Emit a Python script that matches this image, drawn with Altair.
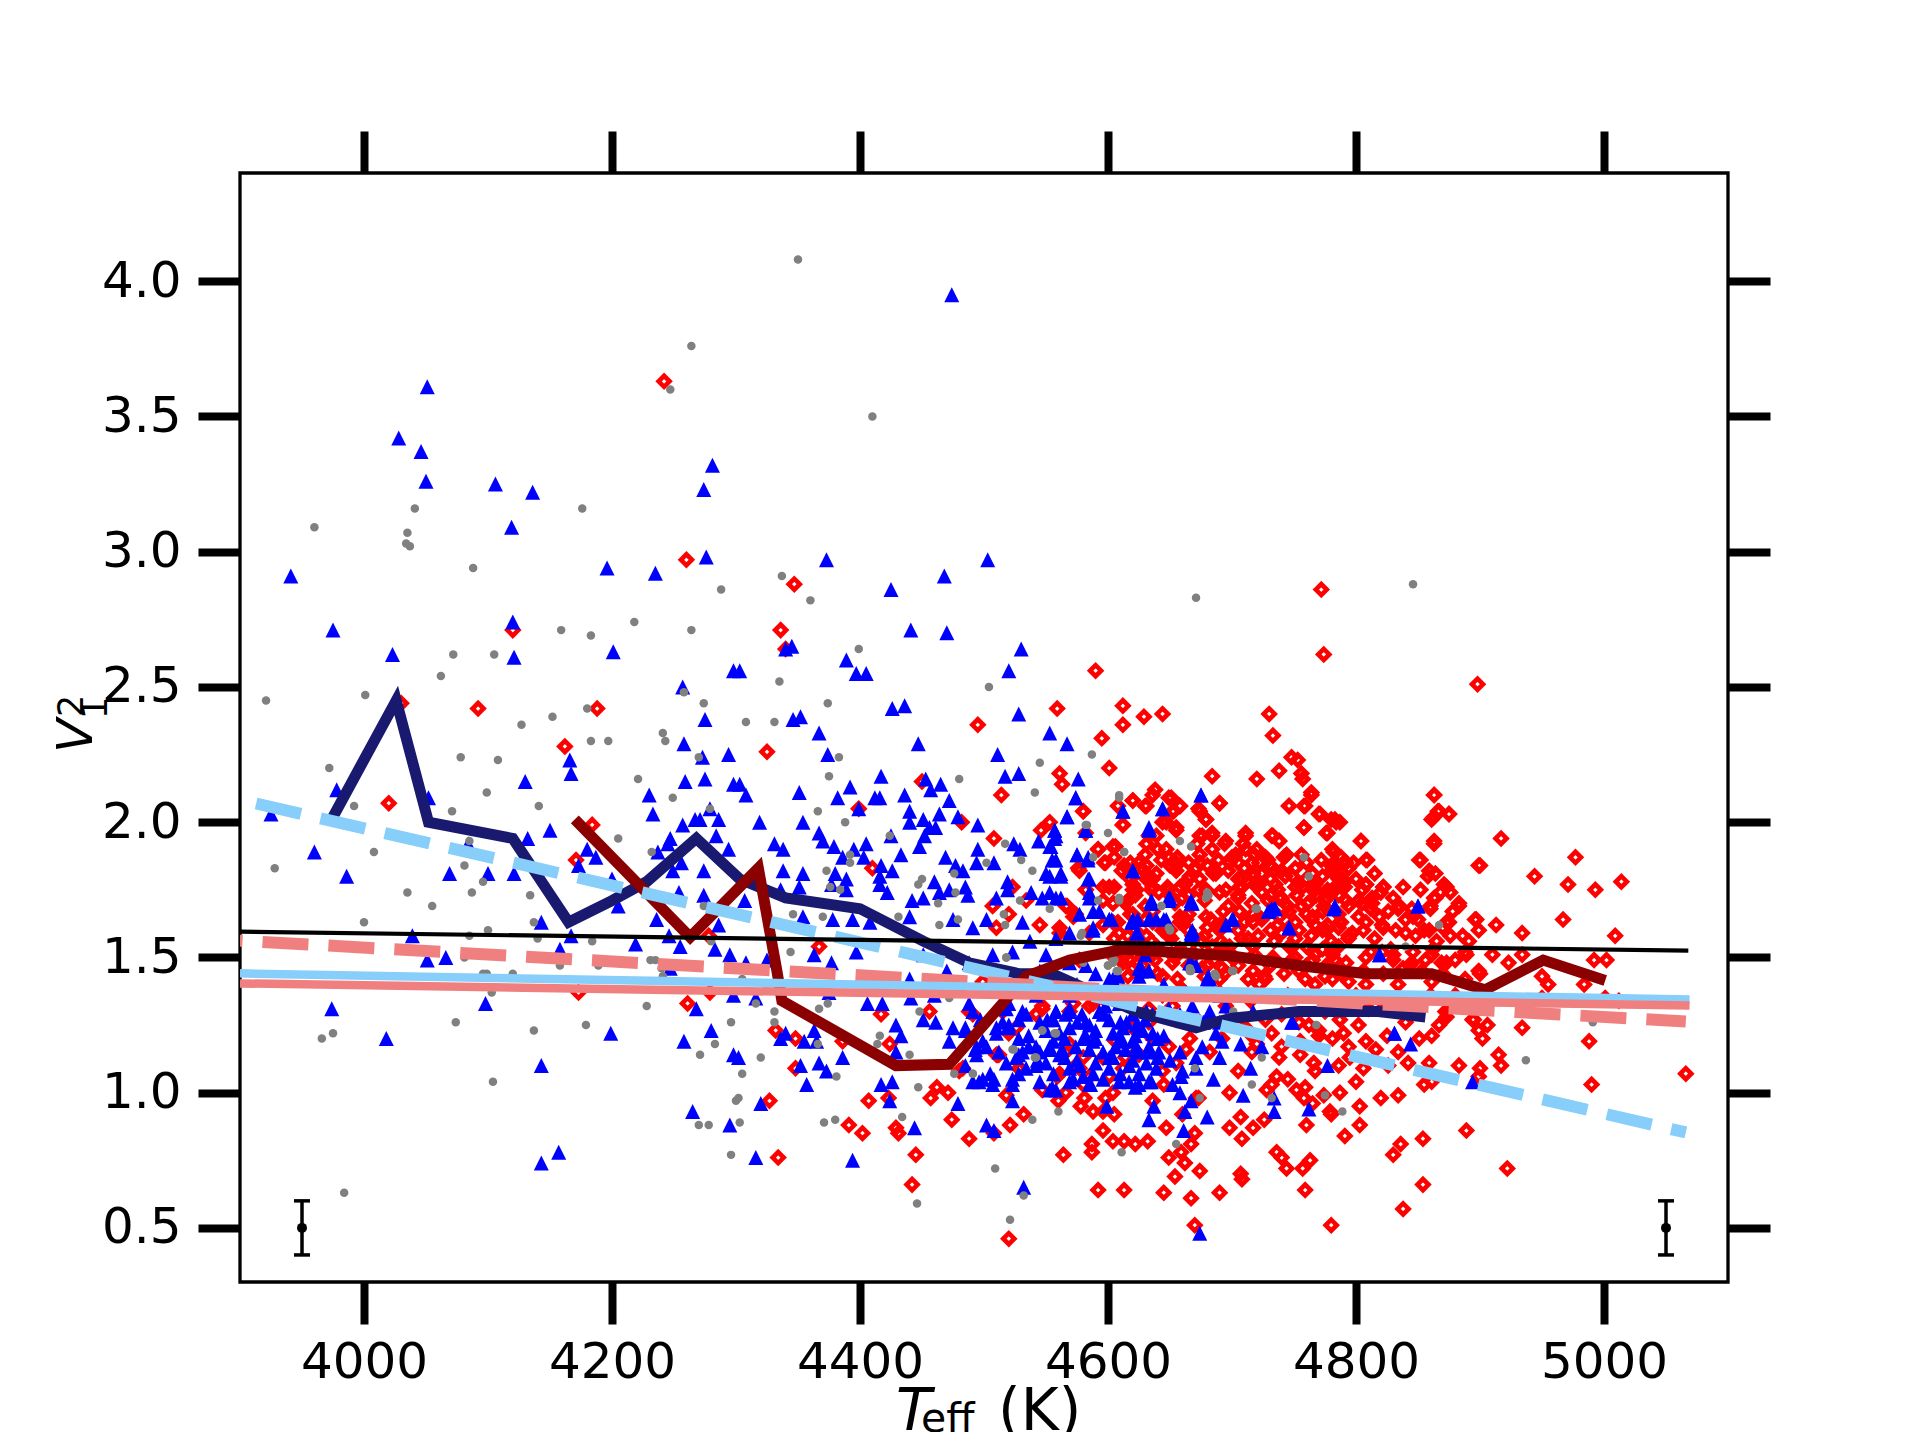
import altair as alt
import pandas as pd

# ---------------- data ----------------
x_ticks = [4000, 4200, 4400, 4600, 4800, 5000]
y_ticks = [0.5, 1.0, 1.5, 2.0, 2.5, 3.0, 3.5, 4.0]

grey_pts = [
    (4350, 4.08), (4264, 3.76), (4247, 3.60), (4410, 3.50), (4041, 3.16), (4176, 3.16), (3960, 3.09), (4035, 3.07), (4034, 3.03),
    (4037, 3.02), (4088, 2.94), (4288, 2.86), (4218, 2.74), (4159, 2.71), (4183, 2.69), (4264, 2.71), (4072, 2.62), (4105, 2.62),
    (4062, 2.54), (4001, 2.47), (3921, 2.45), (4274, 2.44), (4258, 2.48), (4127, 2.36), (4152, 2.39), (4180, 2.42), (4241, 2.33),
    (4243, 2.30), (4183, 2.30), (4197, 2.30), (4270, 2.24), (4078, 2.24), (4108, 2.23), (3972, 2.20), (4221, 2.16), (4099, 2.11),
    (3992, 2.06), (4141, 2.06), (4071, 2.04), (4249, 2.09), (4279, 2.05), (4205, 1.94), (4085, 1.93), (4008, 1.89), (4232, 1.89),
    (3928, 1.83), (4081, 1.84), (4096, 1.78), (4035, 1.74), (4087, 1.74), (4134, 1.73), (4055, 1.69), (4274, 1.69),
    (4337, 2.91), (4360, 2.82), (4399, 2.64), (4335, 2.52), (4504, 2.50), (4374, 2.44), (4308, 2.37), (4331, 2.37), (4671, 2.83),
    (4383, 2.24), (4375, 2.17), (4480, 2.16), (4545, 2.22), (4587, 2.25), (4541, 2.11), (4366, 2.04), (4388, 2.00), (4609, 2.09),
    (4424, 1.95), (4582, 1.99), (4600, 1.96), (4517, 1.92), (4658, 1.93), (4667, 1.91), (4613, 1.89), (4392, 1.88), (4392, 1.85),
    (4373, 1.82), (4530, 1.86), (4502, 1.85), (4539, 1.82), (4588, 1.87), (4476, 1.81), (4447, 1.77), (4450, 1.79), (4376, 1.76),
    (4384, 1.75), (4477, 1.74), (4463, 1.70), (4529, 1.71), (4592, 1.71), (4609, 1.71), (4643, 1.69), (4680, 1.74), (4679, 1.72),
    (4846, 2.88), (4758, 1.87), (4762, 1.80), (4719, 1.68),
    (4000, 1.63), (4085, 1.58), (4100, 1.60), (4137, 1.63), (4140, 1.57), (4184, 1.56), (4081, 1.50), (4096, 1.44), (4099, 1.44),
    (4120, 1.44), (4158, 1.47), (4189, 1.47), (4231, 1.49), (4235, 1.49), (4240, 1.46), (4241, 1.43), (4280, 1.56), (4103, 1.37),
    (4228, 1.32), (4074, 1.26), (4137, 1.23), (4179, 1.25), (3975, 1.22), (3966, 1.20), (4296, 1.26), (4283, 1.18), (4271, 1.14),
    (4104, 1.04), (4300, 0.97), (4270, 0.88), (4278, 0.88), (4296, 0.77), (3984, 0.63),
    (4346, 1.66), (4370, 1.65), (4431, 1.65), (4464, 1.62), (4479, 1.64), (4516, 1.66), (4517, 1.62), (4344, 1.52), (4305, 1.42),
    (4518, 1.50), (4579, 1.59), (4649, 1.61), (4600, 1.47), (4605, 1.49), (4608, 1.45), (4666, 1.46), (4686, 1.44), (4580, 1.48),
    (4316, 1.33), (4331, 1.30), (4331, 1.26), (4367, 1.31), (4374, 1.33), (4472, 1.35), (4448, 1.30), (4416, 1.21), (4414, 1.18),
    (4366, 1.18), (4320, 1.13), (4305, 1.07), (4381, 1.06), (4440, 1.14), (4476, 1.07), (4491, 1.07), (4523, 1.16), (4541, 1.13),
    (4547, 1.23), (4557, 1.22), (4447, 1.02), (4302, 0.98), (4303, 0.89), (4371, 0.89), (4380, 0.90), (4434, 0.91), (4539, 0.90),
    (4560, 0.93), (4670, 1.09), (4674, 0.98), (4655, 0.81), (4611, 0.78), (4509, 0.72), (4532, 0.62), (4446, 0.59), (4521, 0.53),
    (4867, 1.62), (4840, 1.54), (4991, 1.26), (4937, 1.12), (4724, 1.13), (4716, 1.03), (4732, 0.98), (4775, 0.99), (4789, 0.93),
    (4768, 1.25), (4701, 1.45), (4701, 1.30),
    (4609, 2.10), (4583, 1.99), (4680, 1.73), (4609, 1.72), (4650, 1.60), (4578, 1.58), (4553, 1.68), (4604, 1.49), (4607, 1.45),
    (4666, 1.45), (4687, 1.43), (4700, 1.45), (4558, 1.22),
    (4613, 1.89), (4681, 1.73), (4609, 1.72), (4643, 1.69), (4720, 1.68), (4650, 1.60), (4605, 1.49), (4667, 1.45), (4687, 1.43),
    (4547, 1.23), (4558, 1.22), (4524, 1.16), (4542, 1.13), (4491, 1.07), (4600, 1.47), (4604, 1.48), (4608, 1.45), (4518, 1.50),
]

blue_pts = [
    (4474, 3.95), (4051, 3.61), (4028, 3.42), (4046, 3.37), (4050, 3.26), (4281, 3.32), (4274, 3.23), (4106, 3.25), (4136, 3.22), (4119, 3.09),
    (3941, 2.91), (3975, 2.71), (4023, 2.62), (4120, 2.74), (4121, 2.61), (4196, 2.94), (4235, 2.92), (4276, 2.98), (4201, 2.63),
    (4257, 2.50), (4275, 2.38), (4258, 2.29), (4273, 2.24), (4294, 2.25), (4275, 2.16), (4259, 2.15), (4230, 2.10), (4233, 2.03),
    (4257, 1.99), (4267, 2.01), (4271, 2.01), (4286, 2.01), (4279, 2.05), (4284, 1.95), (4294, 1.90), (4247, 1.94), (4245, 1.92),
    (4237, 1.89), (4256, 1.85), (4249, 1.82), (4274, 1.82), (4274, 1.73), (4254, 1.74), (4205, 1.69), (4200, 1.79), (4187, 1.87),
    (4180, 1.90), (4173, 1.84), (4166, 2.23), (4167, 2.18), (4130, 2.15), (4150, 1.97), (4132, 1.94), (4121, 1.81), (4100, 1.81),
    (4069, 1.81), (4084, 1.92), (3986, 1.80), (3960, 1.89), (3925, 2.03), (3978, 2.12), (4052, 2.09), (4298, 2.56), (4298, 2.14),
    (4373, 2.97), (4503, 2.97), (4468, 2.91), (4425, 2.86), (4441, 2.71), (4470, 2.70), (4530, 2.64), (4340, 2.64), (4345, 2.65),
    (4389, 2.60), (4397, 2.55), (4405, 2.55), (4303, 2.56), (4520, 2.56), (4426, 2.42), (4436, 2.43), (4528, 2.40), (4346, 2.38),
    (4352, 2.39), (4367, 2.33), (4447, 2.29), (4553, 2.33), (4567, 2.29), (4511, 2.25), (4374, 2.25), (4417, 2.17), (4517, 2.17),
    (4528, 2.18), (4576, 2.16), (4453, 2.16), (4457, 2.12), (4465, 2.14), (4303, 2.14), (4308, 2.10), (4351, 2.11), (4382, 2.09),
    (4392, 2.13), (4412, 2.09), (4416, 2.09), (4436, 2.10), (4472, 2.08), (4574, 2.09), (4319, 2.00), (4354, 2.00), (4399, 2.05),
    (4440, 2.04), (4451, 2.01), (4464, 2.03), (4479, 2.02), (4495, 1.99), (4567, 2.02), (4612, 2.04), (4644, 2.05), (4633, 1.98),
    (4440, 2.00), (4456, 1.98), (4461, 1.98), (4452, 1.95), (4367, 1.96), (4331, 1.92), (4338, 1.90), (4370, 1.93), (4379, 1.91),
    (4405, 1.92), (4425, 1.95), (4448, 1.91), (4495, 1.90), (4524, 1.92), (4529, 1.90), (4544, 1.93), (4553, 1.91), (4557, 1.97),
    (4557, 1.94), (4582, 1.97), (4575, 1.88), (4620, 1.82), (4584, 1.86), (4338, 1.82), (4354, 1.81), (4380, 1.81), (4389, 1.79),
    (4386, 1.87), (4395, 1.90), (4403, 1.87), (4433, 1.88), (4417, 1.84), (4426, 1.82), (4416, 1.80), (4469, 1.87), (4477, 1.84),
    (4483, 1.82), (4494, 1.85), (4508, 1.85), (4519, 1.78), (4550, 1.81), (4562, 1.81), (4558, 1.86), (4584, 1.79), (4351, 1.76),
    (4336, 1.75), (4377, 1.77), (4389, 1.75), (4416, 1.77), (4422, 1.74), (4442, 1.71), (4451, 1.72), (4460, 1.78), (4464, 1.74),
    (4472, 1.75), (4485, 1.76), (4487, 1.73), (4510, 1.72), (4519, 1.75), (4538, 1.74), (4547, 1.72), (4558, 1.72), (4585, 1.74),
    (4635, 1.70), (4649, 1.71), (4668, 1.70), (4675, 2.10), (4307, 1.71),
    (4732, 1.68), (4782, 1.68), (4850, 1.69),
    (4143, 1.63), (4039, 1.58), (4051, 1.49), (4066, 1.50), (4167, 1.58), (4158, 1.53), (4219, 1.55), (4236, 1.64), (4246, 1.58),
    (4255, 1.54), (4283, 1.53), (4286, 1.62), (4295, 1.51), (4247, 1.46), (3974, 1.31), (4098, 1.33), (4018, 1.20), (4199, 1.22),
    (4258, 1.19), (4280, 1.23), (4268, 1.31), (4298, 1.14), (4143, 1.10), (4265, 0.93), (4295, 0.88), (4157, 0.78), (4143, 0.74),
    (4298, 1.36),
    (4316, 0.76), (4394, 0.75), (4532, 0.65), (4674, 0.48), (4320, 0.96), (4424, 0.97), (4444, 0.87), (4502, 0.88), (4508, 0.86),
    (4479, 0.96), (4523, 0.97), (4523, 1.03), (4599, 0.95), (4633, 0.90), (4637, 0.95), (4661, 0.86), (4662, 0.93), (4658, 1.00),
    (4667, 0.97), (4680, 0.91), (4357, 1.03), (4417, 1.03), (4426, 1.04), (4491, 1.04), (4499, 1.05), (4508, 1.05), (4553, 1.01),
    (4558, 1.01), (4572, 1.05), (4586, 1.03), (4617, 1.04), (4625, 1.03), (4635, 1.04), (4580, 1.06), (4352, 1.10), (4367, 1.11),
    (4373, 1.08), (4386, 1.13), (4336, 1.20), (4340, 1.22), (4355, 1.19), (4365, 1.19), (4302, 1.13), (4308, 1.48), (4316, 1.35),
    (4325, 1.49), (4363, 1.51), (4377, 1.48), (4363, 1.23), (4375, 1.37), (4406, 1.33), (4418, 1.33), (4429, 1.25), (4433, 1.21),
    (4429, 1.15), (4441, 1.35), (4440, 1.42), (4451, 1.27), (4461, 1.26), (4475, 1.24), (4472, 1.19), (4488, 1.33), (4494, 1.17),
    (4494, 1.14), (4485, 1.24), (4510, 1.24), (4520, 1.25), (4531, 1.30), (4531, 1.15), (4542, 1.17), (4543, 1.12), (4551, 1.27),
    (4558, 1.30), (4569, 1.30), (4553, 1.17), (4563, 1.16), (4580, 1.20), (4585, 1.25), (4590, 1.20), (4596, 1.30), (4604, 1.13),
    (4612, 1.19), (4623, 1.17), (4633, 1.15), (4641, 1.15), (4623, 1.25), (4636, 1.29), (4658, 1.15), (4671, 1.13), (4676, 1.17),
    (4690, 1.13), (4687, 1.22), (4682, 1.30), (4695, 1.32), (4660, 1.08), (4659, 1.06), (4671, 1.09), (4451, 1.51), (4488, 1.48),
    (4507, 1.51), (4523, 1.52), (4537, 1.56), (4550, 1.51), (4558, 1.57), (4569, 1.48), (4582, 1.47), (4601, 1.42), (4625, 1.46),
    (4633, 1.45), (4666, 1.48), (4680, 1.42), (4695, 1.62), (4668, 1.59), (4633, 1.64), (4620, 1.64), (4601, 1.64), (4588, 1.61),
    (4531, 1.63), (4502, 1.64), (4491, 1.61), (4475, 1.64), (4440, 1.65), (4408, 1.63), (4394, 1.64), (4378, 1.64), (4354, 1.65),
    (4569, 1.36), (4542, 1.36), (4609, 1.33), (4649, 1.31), (4520, 1.33), (4413, 1.42), (4397, 1.52),
    (4746, 1.61), (4819, 1.51), (4748, 1.26), (4831, 1.22), (4844, 1.18), (4894, 1.04), (4707, 1.18), (4724, 1.17), (4715, 1.09),
    (4709, 0.99), (4734, 0.98), (4734, 0.93), (4762, 0.94), (4777, 1.10), (4717, 1.30), (4730, 1.67),
    (4574, 2.09), (4567, 2.02), (4612, 2.04), (4644, 2.05), (4675, 2.10), (4633, 1.97), (4582, 1.97), (4557, 1.97), (4558, 1.95),
    (4575, 1.88), (4584, 1.87), (4554, 1.91), (4555, 1.86), (4620, 1.82), (4585, 1.79), (4562, 1.80), (4562, 1.72), (4585, 1.72),
    (4577, 1.66), (4588, 1.67), (4593, 1.67), (4601, 1.64), (4588, 1.60), (4569, 1.59), (4635, 1.71), (4649, 1.72), (4667, 1.71),
    (4620, 1.63), (4633, 1.64), (4639, 1.64), (4645, 1.64), (4624, 1.59), (4668, 1.60), (4667, 1.58), (4700, 1.64), (4730, 1.67),
    (4735, 1.68), (4746, 1.61), (4783, 1.69), (4850, 1.69), (4819, 1.51), (4627, 1.45), (4625, 1.43), (4604, 1.42), (4682, 1.42),
    (4666, 1.48), (4566, 1.29), (4582, 1.26), (4596, 1.29), (4615, 1.26), (4625, 1.24), (4658, 1.29), (4668, 1.32), (4690, 1.26),
    (4749, 1.26), (4831, 1.22), (4553, 1.74), (4553, 1.80),
    (4620, 1.82), (4635, 1.70), (4650, 1.72), (4667, 1.70), (4619, 1.63), (4624, 1.64), (4634, 1.64), (4639, 1.64), (4647, 1.64),
    (4603, 1.64), (4623, 1.59), (4667, 1.59), (4701, 1.64), (4729, 1.67), (4734, 1.68), (4746, 1.61), (4782, 1.68), (4627, 1.46),
    (4667, 1.48), (4671, 1.47), (4681, 1.43), (4608, 1.43), (4630, 1.51),
    (4491, 1.30), (4518, 1.31), (4534, 1.29), (4558, 1.30), (4569, 1.31), (4579, 1.29), (4593, 1.30), (4598, 1.32), (4620, 1.29),
    (4631, 1.30), (4485, 1.23), (4510, 1.22), (4520, 1.24), (4536, 1.21), (4550, 1.23), (4561, 1.22), (4569, 1.24), (4582, 1.21),
    (4590, 1.23), (4604, 1.22), (4612, 1.24), (4622, 1.21), (4628, 1.23), (4636, 1.22), (4493, 1.16), (4502, 1.17), (4512, 1.15),
    (4536, 1.17), (4545, 1.15), (4553, 1.16), (4561, 1.14), (4574, 1.17), (4585, 1.16), (4596, 1.15), (4606, 1.17), (4614, 1.16),
    (4625, 1.15), (4633, 1.17), (4485, 1.10), (4518, 1.11), (4534, 1.09), (4542, 1.10), (4550, 1.11), (4569, 1.09), (4577, 1.10),
    (4590, 1.11), (4601, 1.09), (4617, 1.10), (4631, 1.11), (4639, 1.09), (4496, 1.04), (4507, 1.03), (4523, 1.05), (4545, 1.04),
    (4555, 1.02), (4569, 1.04), (4585, 1.03), (4596, 1.05), (4609, 1.04), (4622, 1.02), (4633, 1.04),
    (4497, 1.27), (4515, 1.26), (4528, 1.27), (4545, 1.26), (4556, 1.27), (4575, 1.26), (4601, 1.27), (4610, 1.26), (4630, 1.27),
    (4499, 1.19), (4528, 1.20), (4556, 1.19), (4565, 1.20), (4588, 1.19), (4610, 1.20), (4620, 1.19), (4640, 1.20), (4526, 1.13),
    (4528, 1.14), (4565, 1.13), (4575, 1.12), (4601, 1.13), (4620, 1.12), (4640, 1.13), (4505, 1.07), (4528, 1.07), (4556, 1.07),
    (4588, 1.07), (4610, 1.07), (4625, 1.07), (4645, 1.21), (4650, 1.12), (4652, 1.03), (4685, 1.05), (4692, 1.19), (4677, 1.26),
    (4460, 1.36), (4470, 1.45), (4480, 1.40), (4500, 1.38), (4515, 1.44), (4530, 1.40), (4545, 1.45), (4560, 1.42), (4575, 1.40),
    (4590, 1.44), (4612, 1.38), (4645, 1.40), (4663, 1.37), (4690, 1.36),
]

red_pts = [
    (4242, 3.63),
    (4260, 2.97), (4120, 2.71), (4030, 2.44), (4092, 2.42), (4188, 2.42), (4162, 2.28), (4020, 2.07), (4184, 1.99), (4171, 1.86),
    (4347, 2.88), (4336, 2.71), (4340, 2.64), (4325, 2.26), (4495, 2.36), (4559, 2.42), (4590, 2.56), (4612, 2.43), (4612, 2.36),
    (4629, 2.39), (4644, 2.40), (4595, 2.31), (4601, 2.20), (4561, 2.18), (4563, 2.14), (4514, 2.10), (4450, 2.15), (4580, 2.04),
    (4684, 2.17), (4690, 2.07), (4620, 2.08), (4631, 2.06), (4638, 2.12), (4649, 2.09), (4658, 2.06), (4653, 2.04), (4673, 2.05),
    (4679, 2.01), (4608, 2.06), (4612, 1.99), (4647, 2.00), (4655, 1.97), (4553, 2.00), (4546, 1.97), (4582, 1.96), (4508, 1.94),
    (4482, 2.00), (4399, 2.05), (4592, 1.90), (4606, 1.91), (4633, 1.95), (4640, 1.90), (4674, 1.95), (4684, 1.95), (4694, 1.92),
    (4684, 1.90), (4672, 1.92), (4649, 1.87), (4655, 1.84), (4674, 1.85), (4631, 1.84), (4613, 1.84), (4597, 1.85), (4576, 1.83),
    (4687, 1.81), (4666, 1.80), (4698, 1.85), (4679, 1.75), (4649, 1.75), (4623, 1.75), (4601, 1.76), (4582, 1.75), (4596, 1.71),
    (4614, 1.70), (4631, 1.79), (4641, 1.74), (4660, 1.72), (4695, 1.75), (4410, 1.83), (4523, 1.76), (4534, 1.71), (4567, 1.69),
    (4507, 1.69),
    (4772, 2.86), (4774, 2.62), (4898, 2.51), (4730, 2.40), (4733, 2.32), (4748, 2.24), (4753, 2.23), (4738, 2.19), (4720, 2.16),
    (4756, 2.18), (4757, 2.16), (4764, 2.11), (4746, 2.06), (4759, 2.06), (4771, 2.03), (4863, 2.10), (4866, 2.04), (4875, 2.03),
    (4861, 2.01), (4783, 2.01), (4787, 2.00), (4758, 1.98), (4777, 1.96), (4711, 1.95), (4732, 1.95), (4738, 1.93), (4709, 1.92),
    (4804, 1.93), (4863, 1.92), (4917, 1.94), (4782, 1.89), (4742, 1.87), (4720, 1.90), (4703, 1.88), (4727, 1.87), (4716, 1.85),
    (4780, 1.84), (4790, 1.85), (4798, 1.85), (4809, 1.86), (4851, 1.86), (4900, 1.84), (4977, 1.87), (4944, 1.80), (4971, 1.77),
    (4993, 1.75), (5014, 1.78), (4858, 1.80), (4864, 1.81), (4871, 1.77), (4876, 1.74), (4822, 1.76), (4808, 1.77), (4791, 1.78),
    (4781, 1.74), (4767, 1.75), (4754, 1.77), (4743, 1.80), (4735, 1.77), (4724, 1.74), (4708, 1.79), (4705, 1.72), (4740, 1.72),
    (4756, 1.69), (4774, 1.69), (4802, 1.71), (4813, 1.70), (4834, 1.68), (4864, 1.72), (4883, 1.69), (4860, 1.68),
    (4173, 1.37), (4261, 1.33), (4279, 1.37), (4278, 1.58),
    (4334, 0.76), (4327, 0.97), (4348, 1.09), (4348, 1.20), (4332, 1.23), (4386, 1.19), (4417, 1.29), (4424, 1.18), (4407, 0.97),
    (4391, 0.88), (4402, 0.85), (4429, 0.87), (4431, 0.85), (4445, 0.77), (4442, 0.66), (4423, 0.98), (4462, 1.02), (4457, 0.98),
    (4471, 1.00), (4474, 0.90), (4488, 0.83), (4480, 1.08), (4510, 1.14), (4512, 1.14), (4529, 1.09), (4518, 0.99), (4521, 0.88),
    (4532, 0.92), (4508, 0.85), (4520, 0.46), (4564, 0.77), (4587, 0.78), (4587, 0.81), (4592, 0.64), (4596, 0.86), (4604, 0.82),
    (4613, 0.82), (4622, 0.81), (4632, 0.82), (4613, 0.64), (4645, 0.63), (4647, 0.87), (4649, 0.76), (4659, 0.78), (4662, 0.74),
    (4654, 0.69), (4670, 0.85), (4667, 0.81), (4674, 0.71), (4667, 0.61), (4690, 0.63), (4670, 0.51), (4698, 0.87), (4605, 0.92),
    (4596, 0.93), (4588, 0.93), (4578, 0.95), (4581, 0.98), (4604, 1.00), (4598, 0.98), (4560, 0.97), (4566, 1.00), (4559, 1.06),
    (4547, 1.01), (4580, 1.03), (4585, 1.06), (4636, 0.97), (4645, 1.03), (4660, 0.92), (4671, 0.98), (4673, 0.98), (4698, 1.00),
    (4580, 1.13), (4596, 1.13), (4612, 1.09), (4623, 1.15), (4644, 1.08), (4655, 1.11), (4663, 1.16), (4566, 1.15), (4574, 1.10),
    (4620, 1.24), (4636, 1.20), (4649, 1.17), (4666, 1.20), (4682, 1.15), (4692, 1.20), (4456, 1.30), (4515, 1.30), (4488, 1.30),
    (4499, 1.41), (4367, 1.54), (4510, 1.61), (4545, 1.62), (4561, 1.61), (4520, 1.66), (4526, 1.24), (4547, 1.31), (4569, 1.30),
    (4585, 1.32), (4633, 1.31), (4644, 1.36), (4655, 1.27), (4596, 1.36), (4612, 1.48), (4623, 1.48), (4644, 1.43), (4652, 1.51),
    (4676, 1.46), (4690, 1.42), (4596, 1.62), (4609, 1.59), (4623, 1.57), (4636, 1.63), (4649, 1.58), (4663, 1.64), (4676, 1.56),
    (4690, 1.62), (4698, 1.54), (4574, 1.66), (4585, 1.59), (4617, 1.53), (4636, 1.51), (4658, 1.53), (4682, 1.51), (4692, 1.46),
    (4967, 1.64), (5009, 1.58), (4913, 1.62), (4934, 1.59), (4896, 1.64), (4875, 1.63), (4876, 1.58), (4891, 1.56), (4992, 1.49),
    (5002, 1.49), (4984, 1.40), (4955, 1.40), (4950, 1.43), (5001, 1.35), (5012, 1.34), (4950, 1.35), (4934, 1.51), (4923, 1.48),
    (4910, 1.51), (4900, 1.44), (4888, 1.52), (4934, 1.24), (4988, 1.19), (4990, 1.03), (5066, 1.07), (4915, 1.14), (4917, 1.10),
    (4900, 1.09), (4899, 1.06), (4883, 1.10), (4906, 1.25), (4902, 1.20), (4895, 1.27), (4873, 1.30), (4861, 1.04), (4855, 1.03),
    (4834, 0.99), (4803, 0.95), (4803, 0.88), (4780, 0.92), (4791, 0.84), (4889, 0.86), (4854, 0.83), (4836, 0.81), (4830, 0.77),
    (4922, 0.72), (4854, 0.66), (4838, 0.57), (4780, 0.51), (4759, 0.64), (4763, 0.75), (4757, 0.72), (4740, 0.76), (4744, 0.72),
    (4736, 0.78), (4707, 0.70), (4708, 0.68), (4707, 0.91), (4717, 0.87), (4726, 0.90), (4708, 0.83), (4732, 1.03), (4752, 1.01),
    (4759, 1.02), (4758, 0.98), (4765, 0.96), (4774, 0.99), (4787, 1.00), (4779, 0.93), (4705, 1.08), (4736, 1.06), (4728, 1.01),
    (4716, 1.15), (4738, 1.13), (4755, 1.14), (4766, 1.11), (4767, 1.08), (4786, 1.10), (4806, 1.09), (4826, 1.10), (4842, 1.11),
    (4859, 1.11), (4808, 1.19), (4816, 1.16), (4794, 1.17), (4781, 1.20), (4770, 1.21), (4762, 1.25), (4802, 1.25), (4834, 1.15),
    (4851, 1.20), (4861, 1.21), (4867, 1.25), (4872, 1.30), (4789, 1.30), (4732, 1.22), (4740, 1.17), (4716, 1.21), (4705, 1.26),
    (4727, 1.42), (4754, 1.45), (4781, 1.42), (4808, 1.40), (4834, 1.40), (4861, 1.41), (4888, 1.42), (4740, 1.59), (4767, 1.62),
    (4794, 1.58), (4821, 1.62), (4848, 1.58), (4861, 1.51), (4821, 1.52), (4781, 1.51), (4748, 1.49), (4713, 1.57), (4722, 1.40),
    (4767, 1.40), (4794, 1.41), (4845, 1.48), (4802, 1.65), (4722, 1.65), (4869, 1.48), (4840, 1.64),
    (4580, 2.04), (4612, 1.99), (4620, 2.08), (4630, 2.06), (4636, 2.10), (4651, 2.09), (4658, 2.06), (4652, 2.04), (4674, 2.04),
    (4690, 2.07), (4679, 2.01), (4746, 2.06), (4758, 2.06), (4770, 2.03), (4764, 2.10), (4863, 2.10), (4863, 2.02), (4875, 2.03),
    (4867, 2.04), (4784, 2.00), (4780, 2.01), (4644, 2.00), (4655, 1.98), (4639, 1.95), (4676, 1.95), (4684, 1.96), (4695, 1.93),
    (4711, 1.96), (4733, 1.95), (4738, 1.93), (4758, 1.98), (4776, 1.96), (4804, 1.93), (4863, 1.93), (4604, 1.91), (4592, 1.90),
    (4631, 1.92), (4598, 1.85), (4625, 1.85), (4647, 1.90), (4655, 1.85), (4674, 1.85), (4687, 1.82), (4700, 1.87), (4711, 1.90),
    (4722, 1.85), (4744, 1.88), (4735, 1.82), (4749, 1.80), (4781, 1.90), (4781, 1.84), (4792, 1.85), (4808, 1.86), (4852, 1.86),
    (4859, 1.82), (4899, 1.84), (4577, 1.82), (4631, 1.81), (4717, 1.81), (4582, 1.75), (4596, 1.76), (4620, 1.75), (4636, 1.76),
    (4658, 1.76), (4674, 1.79), (4690, 1.74), (4706, 1.76), (4722, 1.77), (4738, 1.72), (4757, 1.76), (4765, 1.75), (4781, 1.75),
    (4789, 1.79), (4808, 1.77), (4822, 1.76), (4835, 1.69), (4863, 1.72), (4873, 1.76), (4883, 1.70), (4897, 1.64), (4566, 1.69),
    (4604, 1.70), (4792, 1.71), (4805, 1.70), (4813, 1.72), (4572, 1.65), (4604, 1.63), (4620, 1.66), (4658, 1.65), (4679, 1.65),
    (4690, 1.60), (4706, 1.67), (4717, 1.63), (4738, 1.65), (4754, 1.60), (4765, 1.65), (4776, 1.60), (4787, 1.63), (4797, 1.59),
    (4808, 1.63), (4819, 1.65), (4832, 1.60), (4846, 1.65), (4859, 1.60), (4873, 1.63), (4886, 1.58), (4899, 1.60), (4561, 1.59),
    (4631, 1.58), (4644, 1.60), (4668, 1.58), (4577, 1.49), (4612, 1.50), (4639, 1.54), (4652, 1.48), (4684, 1.54), (4700, 1.50),
    (4717, 1.54), (4733, 1.50), (4749, 1.54), (4765, 1.49), (4781, 1.53), (4792, 1.48), (4808, 1.50), (4830, 1.51), (4843, 1.47),
    (4856, 1.49), (4873, 1.48), (4889, 1.51), (4899, 1.45), (4717, 1.45), (4754, 1.45), (4555, 1.38), (4572, 1.33), (4596, 1.35),
    (4617, 1.33), (4633, 1.26), (4652, 1.32), (4674, 1.26), (4695, 1.32), (4711, 1.24), (4727, 1.27), (4754, 1.26), (4770, 1.23),
    (4787, 1.27), (4840, 1.26), (4873, 1.28), (4894, 1.27), (4899, 1.23),
    (4605, 1.87), (4630, 1.88), (4643, 1.86), (4656, 1.87), (4674, 1.88), (4689, 1.86), (4702, 1.87), (4718, 1.88), (4729, 1.86),
    (4742, 1.87), (4756, 1.88), (4772, 1.86), (4788, 1.87), (4611, 1.82), (4627, 1.83), (4639, 1.81), (4655, 1.82), (4671, 1.83),
    (4685, 1.81), (4697, 1.82), (4710, 1.83), (4724, 1.81), (4740, 1.82), (4751, 1.83), (4765, 1.81), (4780, 1.82), (4794, 1.83),
    (4605, 1.76), (4620, 1.77), (4635, 1.75), (4648, 1.76), (4662, 1.77), (4673, 1.75), (4708, 1.76), (4718, 1.77), (4737, 1.75),
    (4751, 1.76), (4767, 1.77), (4777, 1.75), (4791, 1.76), (4604, 1.70), (4616, 1.71), (4630, 1.69), (4654, 1.70), (4678, 1.71),
    (4697, 1.69), (4716, 1.70), (4729, 1.71), (4745, 1.69), (4761, 1.70), (4775, 1.71), (4794, 1.69), (4608, 1.63), (4630, 1.64),
    (4644, 1.62), (4658, 1.63), (4683, 1.64), (4694, 1.62), (4710, 1.63), (4724, 1.64), (4737, 1.62), (4751, 1.63), (4764, 1.64),
    (4777, 1.62), (4788, 1.63), (4605, 1.57), (4616, 1.58), (4635, 1.56), (4651, 1.57), (4678, 1.58), (4691, 1.56), (4708, 1.57),
    (4721, 1.58), (4734, 1.56), (4751, 1.57), (4764, 1.58), (4780, 1.56), (4794, 1.57), (4605, 1.50), (4622, 1.51), (4638, 1.49),
    (4654, 1.50), (4670, 1.51), (4686, 1.49), (4702, 1.50), (4718, 1.51), (4734, 1.49), (4751, 1.50), (4767, 1.51), (4783, 1.49),
    (4616, 1.43), (4640, 1.44), (4656, 1.42), (4678, 1.43), (4694, 1.44), (4713, 1.42), (4726, 1.43), (4742, 1.44), (4759, 1.42),
    (4775, 1.43), (4788, 1.44),
    (4805, 1.75), (4820, 1.74), (4838, 1.76), (4852, 1.75), (4868, 1.74), (4812, 1.68), (4826, 1.67), (4845, 1.68), (4860, 1.69),
    (4878, 1.67), (4806, 1.60), (4822, 1.61), (4840, 1.59), (4855, 1.60), (4870, 1.61), (4812, 1.52), (4828, 1.53), (4846, 1.52),
    (4862, 1.53), (4806, 1.45), (4822, 1.44), (4838, 1.46), (4853, 1.45), (4870, 1.44),
    (4491, 1.29), (4511, 1.14), (4528, 1.09), (4561, 1.07), (4547, 1.32), (4569, 1.18), (4588, 1.33), (4606, 1.19), (4620, 1.46),
    (4614, 1.13), (4625, 1.14), (4601, 1.06), (4577, 1.09), (4542, 1.29), (4520, 1.22), (4483, 1.09), (4555, 1.43),
    (4618, 1.85), (4650, 1.84), (4665, 1.85), (4680, 1.84), (4705, 1.85), (4731, 1.84), (4760, 1.85), (4786, 1.84), (4618, 1.79),
    (4636, 1.79), (4665, 1.79), (4705, 1.79), (4717, 1.80), (4731, 1.79), (4760, 1.79), (4773, 1.80), (4786, 1.79), (4622, 1.73),
    (4650, 1.73), (4665, 1.73), (4705, 1.73), (4731, 1.73), (4752, 1.73), (4768, 1.73), (4786, 1.73), (4618, 1.66), (4636, 1.67),
    (4665, 1.66), (4693, 1.67), (4717, 1.66), (4746, 1.67), (4760, 1.66), (4773, 1.67), (4786, 1.66), (4622, 1.60), (4650, 1.60),
    (4665, 1.60), (4680, 1.61), (4705, 1.60), (4731, 1.60), (4746, 1.61), (4773, 1.60), (4786, 1.61), (4628, 1.54), (4665, 1.54),
    (4693, 1.54), (4717, 1.54), (4746, 1.54), (4760, 1.54), (4773, 1.53), (4786, 1.54), (4628, 1.47), (4665, 1.47), (4680, 1.47),
    (4705, 1.47), (4731, 1.47), (4760, 1.47), (4776, 1.47), (4800, 1.79), (4815, 1.81), (4830, 1.72), (4850, 1.64), (4865, 1.56),
    (4880, 1.49), (4815, 1.57), (4830, 1.49), (4880, 1.36), (4860, 1.36), (4820, 1.34), (4800, 1.36), (4745, 1.36), (4715, 1.34),
    (4690, 1.37), (4660, 1.38), (4740, 1.29), (4775, 1.30), (4810, 1.31), (4850, 1.30), (4720, 1.18), (4755, 1.19), (4790, 1.22),
    (4825, 1.21), (4745, 1.05), (4800, 1.04), (4820, 0.98), (4760, 0.88), (4795, 1.13),
]

navy_T = [3975, 4026, 4052, 4120, 4165, 4200, 4228, 4268, 4303, 4340, 4400, 4451, 4488, 4528, 4555, 4623, 4671, 4682, 4700, 4754, 4818, 4856]
navy_V = [2.02, 2.45, 2.00, 1.94, 1.63, 1.71, 1.78, 1.94, 1.79, 1.72, 1.68, 1.56, 1.48, 1.44, 1.44, 1.30, 1.24, 1.255, 1.275, 1.30, 1.30, 1.28]

darkred_T = [4170, 4263, 4318, 4333, 4337, 4429, 4472, 4515, 4534, 4569, 4612, 4700, 4754, 4808, 4861, 4904, 4951, 5001]
darkred_V = [2.01, 1.575, 1.83, 1.45, 1.34, 1.10, 1.105, 1.33, 1.43, 1.49, 1.53, 1.505, 1.47, 1.44, 1.44, 1.38, 1.49, 1.415]

black_T = [3900, 5068]
black_V = [1.595, 1.525]
lightblue_dash_T = [3913, 5066]
lightblue_dash_V = [2.069, 0.853]
salmon_dash_T = [3865, 5066]
salmon_dash_V = [1.571, 1.263]
lightblue_solid_T = [3900, 5069]
lightblue_solid_V = [1.441, 1.344]
salmon_solid_T = [3900, 5069]
salmon_solid_V = [1.404, 1.322]

errbar_T = [3950, 5050]
errbar_V = [0.5, 0.5]
errbar_err = [0.1, 0.1]

# ---------------- chart ----------------
FONT = "DejaVu Sans"
xs = alt.Scale(domain=[3900, 5100], nice=False, zero=False)
ys = alt.Scale(domain=[0.3, 4.4], nice=False, zero=False)

common_axis = dict(tickSize=42, tickWidth=8, tickColor="black", domain=False, grid=False,
                   labelFont=FONT, labelFontSize=50, labelColor="black", title=None,
                   labelOverlap=False, labelFlush=False)
x_bottom = alt.Axis(orient="bottom", values=x_ticks, labelPadding=13, format="d", **common_axis)
y_left = alt.Axis(orient="left", values=y_ticks, labelPadding=17, format=".1f", **common_axis)
x_top = alt.Axis(orient="top", values=x_ticks, labels=False, **common_axis)
y_right = alt.Axis(orient="right", values=y_ticks, labels=False, **common_axis)


def pts_df(pts):
    return pd.DataFrame(pts, columns=["T", "V"])


def line_df(T, V):
    return pd.DataFrame({"T": T, "V": V})


X = alt.X("T:Q", scale=xs, axis=None)
Y = alt.Y("V:Q", scale=ys, axis=None)

red_layer = alt.Chart(pts_df(red_pts)).mark_point(
    shape="diamond", size=121, filled=False, stroke="#ff0000", strokeWidth=4.6, opacity=1
).encode(x=X, y=Y)

blue_layer = alt.Chart(pts_df(blue_pts)).mark_point(
    shape="M0,-1L1,1L-1,1Z", size=225, filled=True, color="#0000ff", opacity=1, strokeWidth=0
).encode(x=X, y=Y)

grey_layer = alt.Chart(pts_df(grey_pts)).mark_circle(size=72, color="#808080", opacity=1).encode(
    x=alt.X("T:Q", scale=xs, axis=x_bottom), y=alt.Y("V:Q", scale=ys, axis=y_left))

navy_layer = alt.Chart(line_df(navy_T, navy_V)).mark_line(color="#191970", strokeWidth=11).encode(
    x=alt.X("T:Q", scale=xs, axis=x_top), y=alt.Y("V:Q", scale=ys, axis=y_right))

darkred_layer = alt.Chart(line_df(darkred_T, darkred_V)).mark_line(color="#8b0000", strokeWidth=11).encode(x=X, y=Y)

lb_dash_layer = alt.Chart(line_df(lightblue_dash_T, lightblue_dash_V)).mark_line(
    color="#87cefa", strokeWidth=12, strokeDash=[46, 20], clip=True).encode(x=X, y=Y)
sal_dash_layer = alt.Chart(line_df(salmon_dash_T, salmon_dash_V)).mark_line(
    color="#f08080", strokeWidth=12, strokeDash=[46, 20], clip=True).encode(x=X, y=Y)
lb_solid_layer = alt.Chart(line_df(lightblue_solid_T, lightblue_solid_V)).mark_line(
    color="#87cefa", strokeWidth=8.5, clip=True).encode(x=X, y=Y)
sal_solid_layer = alt.Chart(line_df(salmon_solid_T, salmon_solid_V)).mark_line(
    color="#f08080", strokeWidth=8.5, clip=True).encode(x=X, y=Y)
black_layer = alt.Chart(line_df(black_T, black_V)).mark_line(color="black", strokeWidth=4.2).encode(x=X, y=Y)

err_df = pd.DataFrame({"T": errbar_T, "V": errbar_V,
                       "lo": [v - e for v, e in zip(errbar_V, errbar_err)],
                       "hi": [v + e for v, e in zip(errbar_V, errbar_err)]})
err_rule = alt.Chart(err_df).mark_rule(color="black", strokeWidth=3.5).encode(
    x=X, y=alt.Y("lo:Q", scale=ys, axis=None), y2="hi:Q")
err_cap_lo = alt.Chart(err_df).mark_point(shape="M-1,0L1,0", size=256, filled=False, stroke="black",
                                          strokeWidth=3.5, opacity=1).encode(
    x=X, y=alt.Y("lo:Q", scale=ys, axis=None))
err_cap_hi = alt.Chart(err_df).mark_point(shape="M-1,0L1,0", size=256, filled=False, stroke="black",
                                          strokeWidth=3.5, opacity=1).encode(
    x=X, y=alt.Y("hi:Q", scale=ys, axis=None))
err_dot = alt.Chart(err_df).mark_circle(size=100, color="black", opacity=1).encode(x=X, y=Y)

dummy = pd.DataFrame({"a": [0]})


def label(text, x, y, size, italic=False, angle=0):
    kw = dict(text=text, font=FONT, fontSize=size, color="black", align="left", baseline="alphabetic")
    if italic:
        kw["fontStyle"] = "italic"
    if angle:
        kw["angle"] = angle
    return alt.Chart(dummy).mark_text(**kw).encode(x=alt.value(x), y=alt.value(y))


xt_T = label("T", 656, 1257, 58, italic=True)
xt_eff = label("eff", 681, 1259, 41)
xt_K = label("(K)", 758, 1257, 58)
yt_V = label("V", -148, 580, 50, italic=True, angle=270)
yt_1 = label("1", -133, 546, 35, angle=270)
yt_2 = label("2", -157, 544, 35, angle=270)

chart = alt.layer(
    red_layer, blue_layer, grey_layer,
    navy_layer, darkred_layer,
    lb_dash_layer, sal_dash_layer, lb_solid_layer, sal_solid_layer, black_layer,
    err_rule, err_cap_lo, err_cap_hi, err_dot,
    xt_T, xt_eff, xt_K, yt_V, yt_1, yt_2,
).properties(
    width=1488, height=1109,
    autosize=alt.AutoSizeParams(type="none"),
    padding={"left": 232, "top": 165, "right": 184, "bottom": 150},
    background="white",
).configure_view(stroke="black", strokeWidth=3.3)

chart.save("out.html", embed_options={"renderer": "svg", "actions": False})
